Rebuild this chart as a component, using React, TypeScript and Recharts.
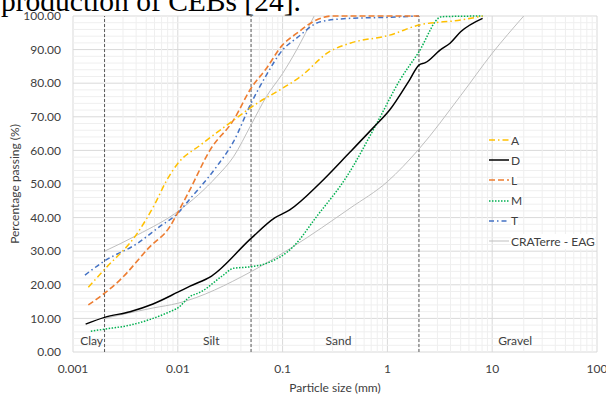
import React from "react";
import {
  LineChart,
  Line,
  CartesianGrid,
  XAxis,
  YAxis,
  ReferenceLine,
  ReferenceDot,
} from "recharts";

const FONT = "Lato, 'Open Sans', sans-serif";

// particle size (mm) / percentage passing
const aSize = [0.0014, 0.002, 0.0041, 0.0061, 0.0078, 0.01, 0.0163, 0.0315, 0.057, 0.1, 0.146, 0.28, 0.44, 1.05, 2.0, 5.0, 8.1];
const aPass = [19.3, 24.6, 35.3, 44.3, 51, 56.1, 61.5, 68.2, 74, 78.5, 81.8, 89.4, 91.9, 94.3, 97.3, 98.8, 100];

const dSize = [0.00132, 0.002, 0.0035, 0.0058, 0.01, 0.0131, 0.021, 0.05, 0.084, 0.117, 0.228, 0.44, 0.73, 1.05, 1.63, 2.0, 2.3, 3.2, 3.96, 5.0, 8.1];
const dPass = [8.3, 10.3, 12.0, 14.3, 17.8, 19.6, 22.6, 33.8, 39.9, 42.3, 50.3, 59.5, 66.7, 72, 81, 85.4, 86.1, 89.9, 91.9, 95.3, 99.3];

const lSize = [0.0014, 0.002, 0.0028, 0.0054, 0.0084, 0.01, 0.013, 0.0203, 0.034, 0.05, 0.07, 0.1, 0.136, 0.21, 0.3, 2.0];
const lPass = [14, 17.5, 21.4, 31.3, 37.3, 41.5, 48.2, 60.1, 69, 78.5, 84.4, 91.4, 94.8, 98.8, 100, 100];

const mSize = [0.00148, 0.002, 0.0035, 0.0084, 0.01, 0.0131, 0.0164, 0.0272, 0.0338, 0.0507, 0.0705, 0.126, 0.211, 0.409, 0.79, 1.32, 1.96, 3.3, 8.1];
const mPass = [6.2, 6.8, 8.0, 12.0, 13.1, 16.5, 17.8, 22.9, 24.9, 25.4, 26.4, 31.3, 40.3, 52.2, 68, 81, 88.9, 99.8, 100];

const tSize = [0.0013, 0.002, 0.0041, 0.0067, 0.01, 0.013, 0.0163, 0.0235, 0.034, 0.05, 0.07, 0.1, 0.136, 0.23, 0.44, 1.0, 2.0];
const tPass = [22.9, 27.1, 32.3, 37.3, 41.3, 45.5, 49, 55.2, 62.6, 74, 82.4, 89.9, 93.4, 98.3, 99.3, 99.6, 100];

// CRATerre - EAG envelope (upper and lower limits)
const craUpSize = [0.002, 0.0041, 0.0105, 0.0235, 0.034, 0.05, 0.07, 0.1, 0.136, 0.2];
const craUpPass = [30, 34.8, 42.3, 52.2, 58.1, 67.6, 76, 82.9, 89.9, 100];
const craLowSize = [0.002, 0.0058, 0.01, 0.05, 0.125, 0.44, 1.0, 2.0, 5.0, 10, 20];
const craLowPass = [10, 13.1, 14.5, 23.9, 31.3, 42.8, 50.7, 60.4, 76.3, 88.9, 100];

const xTicks = [0.001, 0.01, 0.1, 1, 10, 100];
const yTicks = [0, 10, 20, 30, 40, 50, 60, 70, 80, 90, 100];
const boundaries = [0.002, 0.05, 2];
const zones = [
  { name: "Clay", x: 0.00117 },
  { name: "Silt", x: 0.0174 },
  { name: "Sand", x: 0.257 },
  { name: "Gravel", x: 11.4 },
];

const xMinor: number[] = [];
xTicks.slice(0, -1).forEach((d) => {
  for (let k = 2; k <= 9; k++) xMinor.push(d * k);
});
const yMinor: number[] = [];
for (let v = 2; v < 100; v += 2) if (v % 10 !== 0) yMinor.push(v);

const zip = (xs: number[], ys: number[]) =>
  xs.map((size, i) => ({ size, pass: ys[i] }));

const series = [
  { name: "A", data: zip(aSize, aPass), color: "#FFC000", width: 1.5, dash: "6 3 1.5 3" },
  { name: "D", data: zip(dSize, dPass), color: "#000000", width: 1.5, dash: undefined },
  { name: "L", data: zip(lSize, lPass), color: "#ED7D31", width: 1.6, dash: "6 3" },
  { name: "M", data: zip(mSize, mPass), color: "#00B050", width: 1.5, dash: "1.5 1.5" },
  { name: "T", data: zip(tSize, tPass), color: "#4472C4", width: 1.5, dash: "5 3 1.5 3" },
  { name: "CRATerre - EAG", data: zip(craUpSize, craUpPass), color: "#BFBFBF", width: 1, dash: undefined },
];
const craLower = zip(craLowSize, craLowPass);

const ZoneLabel = (props: any) => (
  <text
    x={props.cx}
    y={props.cy}
    dy="0.35em"
    fontFamily={FONT}
    fontSize={12}
    fill="#404040"
  >
    {props.label}
  </text>
);

export default function App() {
  return (
    <div
      style={{
        position: "absolute",
        left: 0,
        top: 0,
        width: 606,
        height: 394,
        background: "#fff",
        overflow: "hidden",
      }}
    >
      <LineChart
        width={606}
        height={394}
        margin={{ top: 16, right: 9, bottom: 0, left: 0 }}
        style={{ fontFamily: FONT }}
      >
        <CartesianGrid stroke="#d9d9d9" />
        {xMinor.map((v) => (
          <ReferenceLine key={"x" + v} x={v} stroke="#efefef" />
        ))}
        {yMinor.map((v) => (
          <ReferenceLine key={"y" + v} y={v} stroke="#efefef" />
        ))}
        <XAxis
          type="number"
          dataKey="size"
          scale="log"
          domain={[0.001, 100]}
          ticks={xTicks}
          interval={0}
          allowDataOverflow
          axisLine={false}
          tickLine={false}
          tickMargin={6}
          height={42}
          tick={{ fill: "#404040", fontSize: 12 }}
          tickFormatter={(v) => String(v)}
          label={{
            value: "Particle size (mm)",
            position: "insideBottom",
            offset: 2,
            fill: "#404040",
            fontSize: 12,
          }}
        />
        <YAxis
          type="number"
          domain={[0, 100]}
          ticks={yTicks}
          width={73}
          axisLine={false}
          tickLine={false}
          tickMargin={6}
          tick={{ fill: "#404040", fontSize: 12 }}
          tickFormatter={(v) => v.toFixed(2)}
          label={{
            value: "Percentage passing (%)",
            angle: -90,
            position: "insideLeft",
            offset: 15,
            fill: "#404040",
            fontSize: 12,
            style: { textAnchor: "middle" },
          }}
        />
        {boundaries.map((v) => (
          <ReferenceLine key={"b" + v} x={v} stroke="#595959" strokeDasharray="3 2" />
        ))}
        {zones.map((z) => (
          <ReferenceDot
            key={z.name}
            x={z.x}
            y={3.3}
            r={0}
            shape={(p: any) => <ZoneLabel {...p} label={z.name} />}
          />
        ))}
        <Line
          data={craLower}
          dataKey="pass"
          type="monotone"
          stroke="#BFBFBF"
          strokeWidth={1}
          dot={false}
          isAnimationActive={false}
        />
        {series
          .slice()
          .reverse()
          .map((s) => (
            <Line
              key={s.name}
              data={s.data}
              dataKey="pass"
              name={s.name}
              type="monotone"
              stroke={s.color}
              strokeWidth={s.width}
              strokeDasharray={s.dash}
              dot={false}
              isAnimationActive={false}
            />
          ))}
      </LineChart>

      <svg
        width={606}
        height={30}
        style={{ position: "absolute", left: 0, top: 0 }}
      >
        <text x={1} y={10.5} fontFamily="'Liberation Serif', serif" fontSize={29.5} fill="#000">
          production of CEBs [24].
        </text>
      </svg>

      <div
        style={{
          position: "absolute",
          left: 489,
          top: 130,
          fontFamily: FONT,
          fontSize: 12,
          color: "#404040",
        }}
      >
        {series.map((s) => (
          <div
            key={s.name}
            style={{ display: "flex", alignItems: "center", height: 20.2 }}
          >
            <svg width={20} height={6} style={{ marginRight: 2 }}>
              <line
                x1={0}
                y1={3}
                x2={20}
                y2={3}
                stroke={s.color}
                strokeWidth={s.width}
                strokeDasharray={s.dash}
              />
            </svg>
            <span style={{ background: "#fff" }}>{s.name}</span>
          </div>
        ))}
      </div>
    </div>
  );
}
